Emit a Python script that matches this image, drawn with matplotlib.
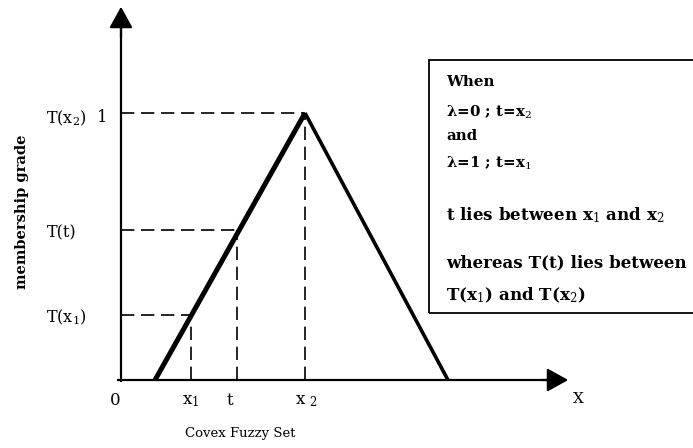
import matplotlib
matplotlib.use("Agg")
import matplotlib.pyplot as plt
from matplotlib.patches import Rectangle

# ---- data (normalised: x2 = 1, peak membership = 1) ----
tri_x = [0.185, 1.0, 1.777]          # left foot, peak (x2), right foot
tri_y = [0.0, 1.0, 0.0]
mark_names = ["x1", "t", "x2"]
mark_x = [0.38, 0.63, 1.0]
mark_T = [0.245, 0.56, 1.0]
x_tick_labels = ["0", r"x$_1$", "t", r"x $_2$"]
y_tick_labels = [r"T(x$_1$)", "T(t)", r"T(x$_2$)"]
box_lines = ["When", r"λ=0 ; t=x$_2$", "and", r"λ=1 ; t=x$_1$", "",
             r"t lies between x$_1$ and x$_2$", "",
             "whereas T(t) lies between", r"T(x$_1$) and T(x$_2$)"]

W, H = 693, 448
fig = plt.figure(figsize=(W / 100, H / 100), dpi=100)
ax = fig.add_axes([0, 0, 1, 1])
X0, XS = 121, 184
Y0, YS = 380, 267
ax.set_xlim((0 - X0) / XS, (W - X0) / XS)
ax.set_ylim((Y0 - H) / YS, Y0 / YS)
ax.axis("off")

def P(px, py):
    return ((px - X0) / XS, (Y0 - py) / YS)

plt.rcParams['mathtext.fontset'] = 'custom'
plt.rcParams['mathtext.rm'] = 'DejaVu Serif'
plt.rcParams['mathtext.it'] = 'DejaVu Serif'
plt.rcParams['mathtext.bf'] = 'DejaVu Serif:bold'
serif = "DejaVu Serif"

# axes arrows
ax.plot([P(117, 0)[0], P(560, 0)[0]], [0, 0], color="black", lw=1.6, solid_capstyle="butt")
ax.plot([0, 0], [P(0, 382)[1], P(0, 15)[1]], color="black", lw=1.6, solid_capstyle="butt")
ax.annotate("", xy=P(571, 380), xytext=P(540, 380),
            arrowprops=dict(arrowstyle="-|>,head_length=0.65,head_width=0.36",
                            mutation_scale=20, color="black", lw=1.6))
ax.annotate("", xy=P(121, 4), xytext=P(121, 40),
            arrowprops=dict(arrowstyle="-|>,head_length=0.65,head_width=0.36",
                            mutation_scale=20, color="black", lw=1.6))

# triangle membership function
ax.plot(tri_x[:2], tri_y[:2], color="black", lw=3.6, solid_capstyle="butt")
ax.plot(tri_x[1:], tri_y[1:], color="black", lw=2.6, solid_capstyle="butt")

# dashed guide lines
for xm, tm in zip(mark_x, mark_T):
    ax.plot([0, xm], [tm, tm], color="black", lw=1.2, ls=(0, (8, 4)))
    ax.plot([xm, xm], [0, tm], color="black", lw=1.2, ls=(0, (8, 4)))

# x tick labels
xlab_pos = [0] + mark_x
xlab_off = [-0.03, 0.0, -0.04, 0.01]
for xv, lab, off in zip(xlab_pos, x_tick_labels, xlab_off):
    ax.text(xv + off, P(0, 400)[1], lab, ha="center", va="center",
            fontsize=12, family=serif)
ax.text(*P(578, 399), "X", ha="center", va="center", fontsize=11, family=serif)

# y tick labels
ylab_px = [66, 62, 66]
for tv, lab, lx in zip(mark_T, y_tick_labels, ylab_px):
    ax.text(P(lx, 0)[0], tv - 0.01 if tv < 1 else tv - 0.02, lab,
            ha="center", va="center", fontsize=11.5, family=serif)
ax.text(*P(102, 117), "1", ha="center", va="center", fontsize=12, family=serif)

# axis titles
ax.text(*P(240, 433), "Covex Fuzzy Set", ha="center", va="center",
        fontsize=9.5, family=serif)
ax.text(*P(22, 212), "membership grade", ha="center", va="center",
        rotation=90, fontsize=10.5, family=serif, fontweight="bold")

# annotation box
bx0, by0 = P(429, 313)
bx1, by1 = P(700, 60)
ax.add_patch(Rectangle((bx0, by0), bx1 - bx0, by1 - by0, fill=False,
                       edgecolor="black", lw=1.3))
line_y = [82, 112, 136, 163, 189, 215, 240, 263, 295]
for ly, txt in zip(line_y, box_lines):
    if not txt:
        continue
    big = ly >= 200
    ax.text(*P(446, ly), txt, ha="left", va="center",
            fontsize=12.1 if big else 10.8, family=serif, fontweight="bold")

fig.savefig("out.png", dpi=100, facecolor="white")
